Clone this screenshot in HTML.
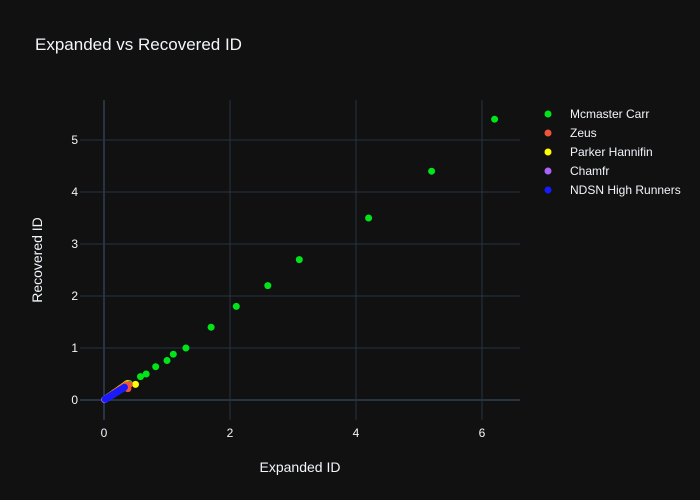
<!DOCTYPE html><html><head><style>body{margin:0;background:#111}svg{display:block}text{font-family:"Liberation Sans",sans-serif;fill:#f2f5fa}</style></head><body>
<svg id="s" width="700" height="500" xmlns="http://www.w3.org/2000/svg">
<rect width="700" height="500" fill="#111"/>
<g stroke="#283442" stroke-width="1">
<line x1="230" y1="100" x2="230" y2="420"/><line x1="356" y1="100" x2="356" y2="420"/><line x1="482" y1="100" x2="482" y2="420"/>
<line x1="80" y1="348" x2="520" y2="348"/><line x1="80" y1="296" x2="520" y2="296"/><line x1="80" y1="244" x2="520" y2="244"/><line x1="80" y1="192" x2="520" y2="192"/><line x1="80" y1="140" x2="520" y2="140"/>
</g>
<g stroke="#283442" stroke-width="2"><line x1="104" y1="100" x2="104" y2="420"/><line x1="80" y1="400" x2="520" y2="400"/></g>
<text x="35" y="50" font-size="17">Expanded vs Recovered ID</text>
<g font-size="12" text-anchor="middle"><text x="104" y="437">0</text><text x="230" y="437">2</text><text x="356" y="437">4</text><text x="482" y="437">6</text></g>
<g font-size="12" text-anchor="end"><text x="78" y="404">0</text><text x="78" y="352">1</text><text x="78" y="300">2</text><text x="78" y="248">3</text><text x="78" y="196">4</text><text x="78" y="144">5</text></g>
<text x="300" y="472" font-size="14" text-anchor="middle">Expanded ID</text>
<text x="42" y="260" font-size="14" text-anchor="middle" transform="rotate(-90 42 260)">Recovered ID</text>
<g id="pts"></g>
<g font-size="12">
<circle cx="548" cy="114" r="3.5" fill="#00e51a"/><text x="570" y="118">Mcmaster Carr</text>
<circle cx="548" cy="133" r="3.5" fill="#ef553b"/><text x="570" y="137">Zeus</text>
<circle cx="548" cy="152" r="3.5" fill="#ffff00"/><text x="570" y="156">Parker Hannifin</text>
<circle cx="548" cy="171" r="3.5" fill="#ab63fa"/><text x="570" y="175">Chamfr</text>
<circle cx="548" cy="190" r="3.5" fill="#1a1aff"/><text x="570" y="194">NDSN High Runners</text>
</g>
</svg>
<script>
var g=document.getElementById('pts'),h='';
function c(x,y,col){h+='<circle cx="'+(104+63*x).toFixed(1)+'" cy="'+(400-52*y).toFixed(1)+'" r="3.5" fill="'+col+'"/>';}
[[6.2,5.4],[5.2,4.4],[4.2,3.5],[3.1,2.7],[2.6,2.2],[2.1,1.8],[1.7,1.4],[1.3,1.0],[1.1,0.88],[1.0,0.76],[0.82,0.64],[0.67,0.5],[0.58,0.45],[0.4,0.32],[0.35,0.3],[0.3,0.25],[0.25,0.2],[0.2,0.16]].forEach(function(p){c(p[0],p[1],'#00e51a')});
for(var i=0;i<12;i++){var v=0.04+i*0.03;c(v,v*0.85,'#ffff00');}
c(0.5,0.3,'#ffff00');
for(var i=0;i<12;i++){var v=0.05+i*0.028;c(v,v*0.82,'#ef553b');}
c(0.38,0.22,'#ef553b');c(0.36,0.27,'#ef553b');c(0.4,0.3,'#ef553b');
for(var i=0;i<14;i++){var v=0.01+i*0.022;c(v,v*0.75,'#ab63fa');}
for(var i=0;i<18;i++){var v=0.02+i*0.018;c(v,v*0.75,'#1a1aff');}
g.innerHTML=h;
</script>
</body></html>
